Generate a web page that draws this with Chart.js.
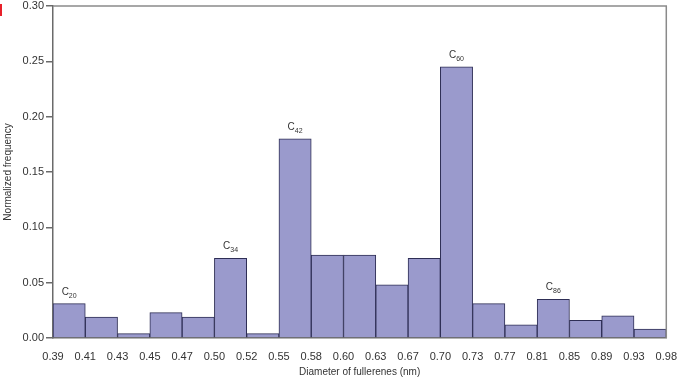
<!DOCTYPE html>
<html>
<head>
<meta charset="utf-8">
<script src="https://cdn.jsdelivr.net/npm/chart.js@4"></script>
<style>
	body { margin: 0; background: #fff; }
	#wrap { position: relative; width: 681px; height: 383px; }
	#mark { position: absolute; left: 0; top: 4px; width: 2px; height: 12px; background: #e8202a; }
</style>
</head>
<body>
<div id="wrap">
	<canvas id="mycanvas" width="681" height="383"></canvas>
	<div id="mark"></div>
</div>
<script>
// bin edges (tick labels) and normalized frequency per bin
var edges = ['0.39','0.41','0.43','0.45','0.47','0.50','0.52','0.55','0.58','0.60','0.63','0.67','0.70','0.73','0.77','0.81','0.85','0.89','0.93','0.98'];
var freq = [0.031, 0.019, 0.004, 0.023, 0.019, 0.072, 0.004, 0.180, 0.075, 0.075, 0.048, 0.072, 0.245, 0.031, 0.012, 0.035, 0.016, 0.020, 0.008];

// fullerene labels above some bars
var annoSub = ['20', '34', '42', '60', '86'];
var annoBar = [0, 5, 7, 12, 15];

var points = [];
for (var i in freq) {
	points.push({x: Number(i) + 0.5, y: freq[i]});
}

var frame = {
	id: 'frame',
	afterDraw: function(chart) {
		var c = chart.ctx, a = chart.chartArea;
		c.save();
		c.strokeStyle = '#8a8a8a';
		c.lineWidth = 1.5;
		c.beginPath();
		c.moveTo(a.left, a.top);
		c.lineTo(a.right, a.top);
		c.lineTo(a.right, a.bottom);
		c.stroke();
		c.restore();
	}
};

var labels = {
	id: 'labels',
	afterDatasetsDraw: function(chart) {
		var c = chart.ctx;
		var xs = chart.scales.x, ys = chart.scales.y;
		c.save();
		c.fillStyle = '#333';
		c.textBaseline = 'alphabetic';
		for (var k = 0; k < annoBar.length; k++) {
			var b = annoBar[k];
			var cx = xs.getPixelForValue(b + 0.5);
			var top = ys.getPixelForValue(freq[b]);
			c.font = '10px "Liberation Sans"';
			var w1 = c.measureText('C').width;
			c.font = '7px "Liberation Sans"';
			var w2 = c.measureText(annoSub[k]).width;
			var x0 = cx - (w1 + w2) / 2;
			c.font = '10px "Liberation Sans"';
			c.fillText('C', x0, top - 9);
			c.font = '7px "Liberation Sans"';
			c.fillText(annoSub[k], x0 + w1, top - 6);
		}
		c.restore();
	}
};

var ctx = document.getElementById('mycanvas');

var barGraph = new Chart(ctx, {
	type: 'bar',
	data: {
		datasets: [{
			data: points,
			backgroundColor: '#9a9acc',
			borderColor: '#2e2e55',
			borderWidth: 1,
			barPercentage: 1,
			categoryPercentage: 1
		}]
	},
	options: {
		responsive: false,
		animation: false,
		layout: { padding: { top: 6, right: 13, left: 0, bottom: 0 } },
		plugins: { legend: { display: false }, tooltip: { enabled: false } },
		scales: {
			x: {
				type: 'linear',
				offset: false,
				min: 0,
				max: 19,
				grid: { display: false, offset: false },
				border: { display: true, color: '#6a6a6a', width: 1.5 },
				ticks: {
					stepSize: 1,
					autoSkip: false,
					maxRotation: 0,
					padding: 4,
					color: '#333',
					font: { family: 'Liberation Sans', size: 11 },
					callback: function(v) { return edges[v]; }
				},
				title: {
					display: true,
					text: 'Diameter of fullerenes (nm)',
					color: '#333',
					font: { family: 'Liberation Sans', size: 10 },
					padding: { top: 0, bottom: 5 }
				},
				afterFit: function(s) { s.height = 45; }
			},
			y: {
				min: 0,
				max: 0.3,
				grid: { drawOnChartArea: false, tickLength: 7, color: '#6a6a6a', lineWidth: 1.5 },
				border: { display: true, color: '#6a6a6a', width: 1.5 },
				ticks: {
					stepSize: 0.05,
					padding: 2,
					color: '#333',
					font: { family: 'Liberation Sans', size: 11 },
					callback: function(v) { return v.toFixed(2); }
				},
				title: {
					display: true,
					text: 'Normalized frequency',
					color: '#333',
					font: { family: 'Liberation Sans', size: 10 },
					padding: { top: 2, bottom: 0 }
				},
				afterFit: function(s) { s.width = 53; s.paddingTop = 0; s.paddingBottom = 0; }
			}
		}
	},
	plugins: [frame, labels]
});
</script>
</body>
</html>
